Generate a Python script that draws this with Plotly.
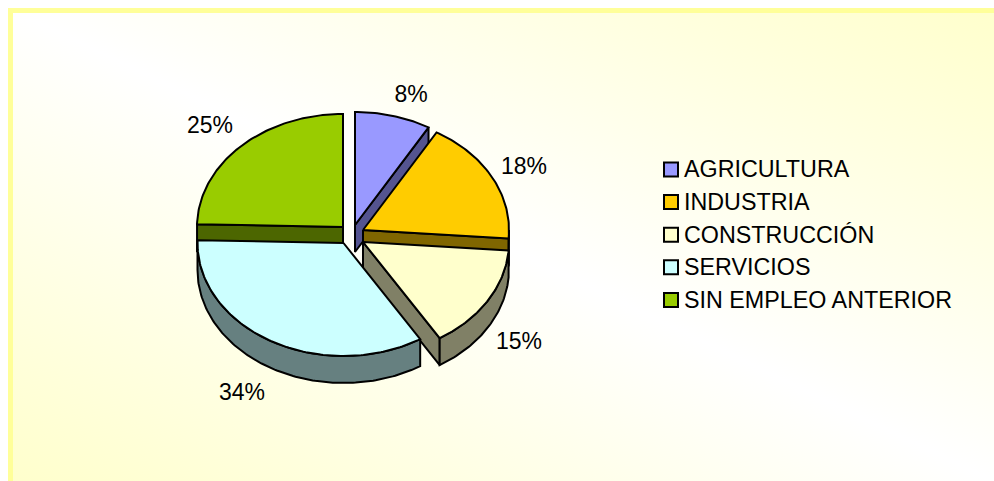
import base64
import math
import plotly.graph_objects as go

# ---- data ----
categories = ["AGRICULTURA", "INDUSTRIA", "CONSTRUCCIÓN", "SERVICIOS", "SIN EMPLEO ANTERIOR"]
shares = [8.4, 17.8, 15.0, 34.2, 24.6]

# ---- styles and layout ----
top_colors = ["#9999FF", "#FFCC00", "#FFFFCC", "#CCFFFF", "#99CC00"]
side_colors = ["#545490", "#806600", "#808066", "#668080", "#4C6600"]
slice_centers = [(355, 225), (363, 230), (363, 242), (343.5, 243), (343, 227)]
label_centers = [(411, 96), (524, 168), (519, 343), (242, 394), (210, 127)]
RX, RY, DEPTH = 146, 113, 27
W, H = 994, 481
FONT = "Liberation Sans, Arial, sans-serif"
LEGEND_SWATCH_X, LEGEND_TEXT_X, LEGEND_Y0, LEGEND_STEP = 671, 684, 169.5, 32.6
DRAW_ORDER = [4, 0, 1, 2, 3]


def rim(center, theta):
    t = math.radians(theta)
    return center[0] + RX * math.sin(t), center[1] - RY * math.cos(t)


def arc(center, a, b):
    n = max(2, int(abs(b - a)) + 1)
    return [rim(center, a + (b - a) * i / n) for i in range(n + 1)]


def poly(points, color):
    xs = [p[0] for p in points] + [points[0][0]]
    ys = [p[1] for p in points] + [points[0][1]]
    return go.Scatter(x=xs, y=ys, mode="lines", fill="toself", fillcolor=color,
                      line=dict(color="black", width=2), hoverinfo="skip", showlegend=False)


# angular extents from the values
total = sum(shares)
edges = [0.0]
for v in shares:
    edges.append(edges[-1] + 360.0 * v / total)

fig = go.Figure()
for i in DRAW_ORDER:
    c = slice_centers[i]
    s, e = edges[i], edges[i + 1]
    side = side_colors[i]
    down = lambda pts: [(x, y + DEPTH) for x, y in reversed(pts)]
    # radial cut faces that look toward the viewer
    if math.sin(math.radians(s)) < -1e-6:
        p = [c, rim(c, s)]
        fig.add_trace(poly(p + down(p), side))
    if math.sin(math.radians(e)) > 1e-6:
        p = [c, rim(c, e)]
        fig.add_trace(poly(p + down(p), side))
    # outer wall
    a, b = max(s, 90), min(e, 270)
    if b > a:
        p = arc(c, a, b)
        fig.add_trace(poly(p + down(p), side))
    # top face
    fig.add_trace(poly([c] + arc(c, s, e), top_colors[i]))

# percentage labels
fig.add_trace(go.Scatter(
    x=[p[0] for p in label_centers], y=[p[1] for p in label_centers],
    text=[f"{round(v)}%" for v in shares], mode="text", textposition="middle center",
    textfont=dict(family=FONT, size=23, color="black"), hoverinfo="skip", showlegend=False))

# legend
legend_y = [LEGEND_Y0 + LEGEND_STEP * i for i in range(len(categories))]
fig.add_trace(go.Scatter(
    x=[LEGEND_SWATCH_X] * len(categories), y=legend_y, mode="markers",
    marker=dict(symbol="square", size=14, color=top_colors, line=dict(color="black", width=2)),
    hoverinfo="skip", showlegend=False))
fig.add_trace(go.Scatter(
    x=[LEGEND_TEXT_X] * len(categories), y=[y + 2 for y in legend_y], text=categories,
    mode="text", textposition="middle right",
    textfont=dict(family=FONT, size=23.3, color="black"), hoverinfo="skip", showlegend=False))

svg = f"""<svg xmlns='http://www.w3.org/2000/svg' width='{W}' height='{H}' viewBox='0 0 {W} {H}'>
<defs><linearGradient id='g' x1='0' y1='1' x2='1' y2='0'>
<stop offset='0' stop-color='#FFFFCC'/><stop offset='0.5' stop-color='#FFFFFF'/><stop offset='1' stop-color='#FFFFCC'/>
</linearGradient></defs>
<rect width='{W}' height='{H}' fill='white'/>
<rect x='8' y='8' width='{W-8}' height='{H-8}' fill='url(#g)'/>
<rect x='8' y='8' width='{W-8}' height='5' fill='#FFFF99'/>
<rect x='8' y='8' width='5' height='{H-8}' fill='#FFFF99'/>
</svg>"""
uri = "data:image/svg+xml;base64," + base64.b64encode(svg.encode()).decode()

fig.update_layout(
    width=W, height=H, margin=dict(l=0, r=0, t=0, b=0),
    paper_bgcolor="white", plot_bgcolor="rgba(0,0,0,0)", showlegend=False,
    xaxis=dict(range=[0, W], visible=False, fixedrange=True),
    yaxis=dict(range=[H, 0], visible=False, fixedrange=True),
    images=[dict(source=uri, xref="paper", yref="paper", x=0, y=1, sizex=1, sizey=1,
                 xanchor="left", yanchor="top", sizing="stretch", layer="below")],
)
fig.write_html("out.html", config=dict(displayModeBar=False),
               post_script="document.body.style.margin='0';document.body.style.overflow='hidden';")
